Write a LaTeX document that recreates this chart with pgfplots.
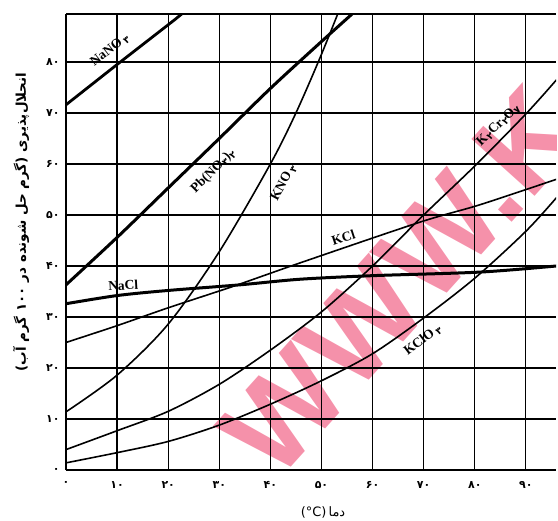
\documentclass[border=0pt]{standalone}
\usepackage{fontspec}
\usepackage{pgfplots}
\pgfplotsset{compat=1.18}
\setmainfont{Liberation Serif}
\newfontfamily\pfont[Script=Arabic]{DejaVu Sans}
\newfontfamily\wfont{Liberation Sans}
\TeXXeTstate=1

\definecolor{wm}{RGB}{245,145,170}
\newcommand{\sub}[1]{\raisebox{-0.4ex}{\pfont\fontsize{9.5}{9.5}\selectfont #1}}

\begin{document}
\begin{tikzpicture}
\begin{axis}[
  scale only axis,
  width=490bp, height=456bp,
  xmin=0, xmax=95.9, ymin=0, ymax=89.4,
  axis line style={draw=none},
  xtick={0,10,...,90}, ytick={0,10,...,80},
  xticklabels={۰,۱۰,۲۰,۳۰,۴۰,۵۰,۶۰,۷۰,۸۰,۹۰},
  yticklabels={۰,۱۰,۲۰,۳۰,۴۰,۵۰,۶۰,۷۰,۸۰},
  major tick length=0pt,
  tick label style={font=\pfont\bfseries\fontsize{11}{11}\selectfont},
  xticklabel style={yshift=-8bp},
  yticklabel style={xshift=-3bp},
  grid=major,
  major grid style={black, line width=1.2bp},
  every axis plot/.append style={black, no markers, line width=1.6bp},
]
% NaNO3
\addplot[line width=2.8bp] coordinates {(0,71.6) (10,79.5) (21.3,88.3) (24,90.5)};
% Pb(NO3)2
\addplot[line width=3bp, smooth] coordinates {(0,36.3) (10,45.6) (20,55.3) (30,65) (40,74.8) (50,84) (57,90.3)};
% KNO3
\addplot[smooth] coordinates {(0,11.4) (10,18.6) (20,28.6) (30,42.8) (40,60) (45,70) (50,81.5) (55,94)};
% NaCl
\addplot[line width=3bp, smooth] coordinates {(0,32.6) (10,34.2) (20,35.2) (34,36.3) (45.8,37.4) (60,38.1) (81,38.8) (96,40)};
% KCl
\addplot[smooth] coordinates {(0,25) (10,28.3) (20,31.8) (32.7,36) (45.8,40.6) (69.3,48.6) (81,52) (96,57)};
% K2Cr2O7
\addplot[smooth] coordinates {(0,4) (10,7.7) (20,11.5) (30,16.8) (40,23.5) (50,31) (60,40) (70,50) (80,59.6) (90,69.8) (96,76.5)};
% KClO3
\addplot[smooth] coordinates {(0,1.4) (10,3.4) (20,5.6) (30,8.8) (40,12.9) (50,17.5) (60,22.8) (70,29.8) (80,37.6) (90,46.8) (96,53.4)};

\draw[line width=2bp] (rel axis cs:0,0) -- (rel axis cs:1,0);
\draw[line width=2bp] (rel axis cs:0,0) -- (rel axis cs:0,1);
\draw[line width=1.2bp] (rel axis cs:0,1) -- (rel axis cs:1,1);

\begin{scope}[every node/.style={font=\bfseries\fontsize{13.5}{13.5}\selectfont, inner sep=1pt}]
\node[rotate=38] at (axis cs:8.6,82.3) {NaNO\,\sub{۳}};
\node[rotate=45] at (axis cs:28.8,58.6) {Pb(NO\sub{۳})\sub{۲}};
\node[rotate=62] at (axis cs:42.6,56.3) {KNO\,\sub{۳}};
\node[rotate=44] at (axis cs:84.6,67.6) {K\sub{۲}Cr\sub{۲}O\sub{۷}};
\node[rotate=18] at (axis cs:54.3,45.6) {KCl};
\node[rotate=3] at (axis cs:11.2,36.2) {NaCl};
\node[rotate=37] at (axis cs:69.8,25.4) {KClO\,\sub{۳}};
\end{scope}

% watermark
\begin{scope}[blend mode=multiply]
\node[overlay, anchor=base west, inner sep=0pt, rotate=48, text=wm,
  font=\wfont\bfseries\fontsize{124}{124}\selectfont] at (axis cs:41.2,-2.6) {WWW.K};
\end{scope}
\end{axis}

\node[rotate=90, font=\pfont\bfseries\fontsize{13.5}{13.5}\selectfont]
  at ([xshift=-45bp,yshift=20bp]current axis.west)
  {\beginR انحلال‌پذیری (گرم حل شونده در ۱۰۰ گرم آب)\endR};
\node[font=\pfont\fontsize{13}{13}\selectfont]
  at ([xshift=12bp,yshift=-42bp]current axis.south)
  {(°C)\,\beginR دما\endR};

\pgfresetboundingbox
\path[use as bounding box] ([xshift=-66bp,yshift=-51bp]current axis.south west)
  rectangle ([xshift=2bp,yshift=14bp]current axis.north east);
\end{tikzpicture}
\end{document}
